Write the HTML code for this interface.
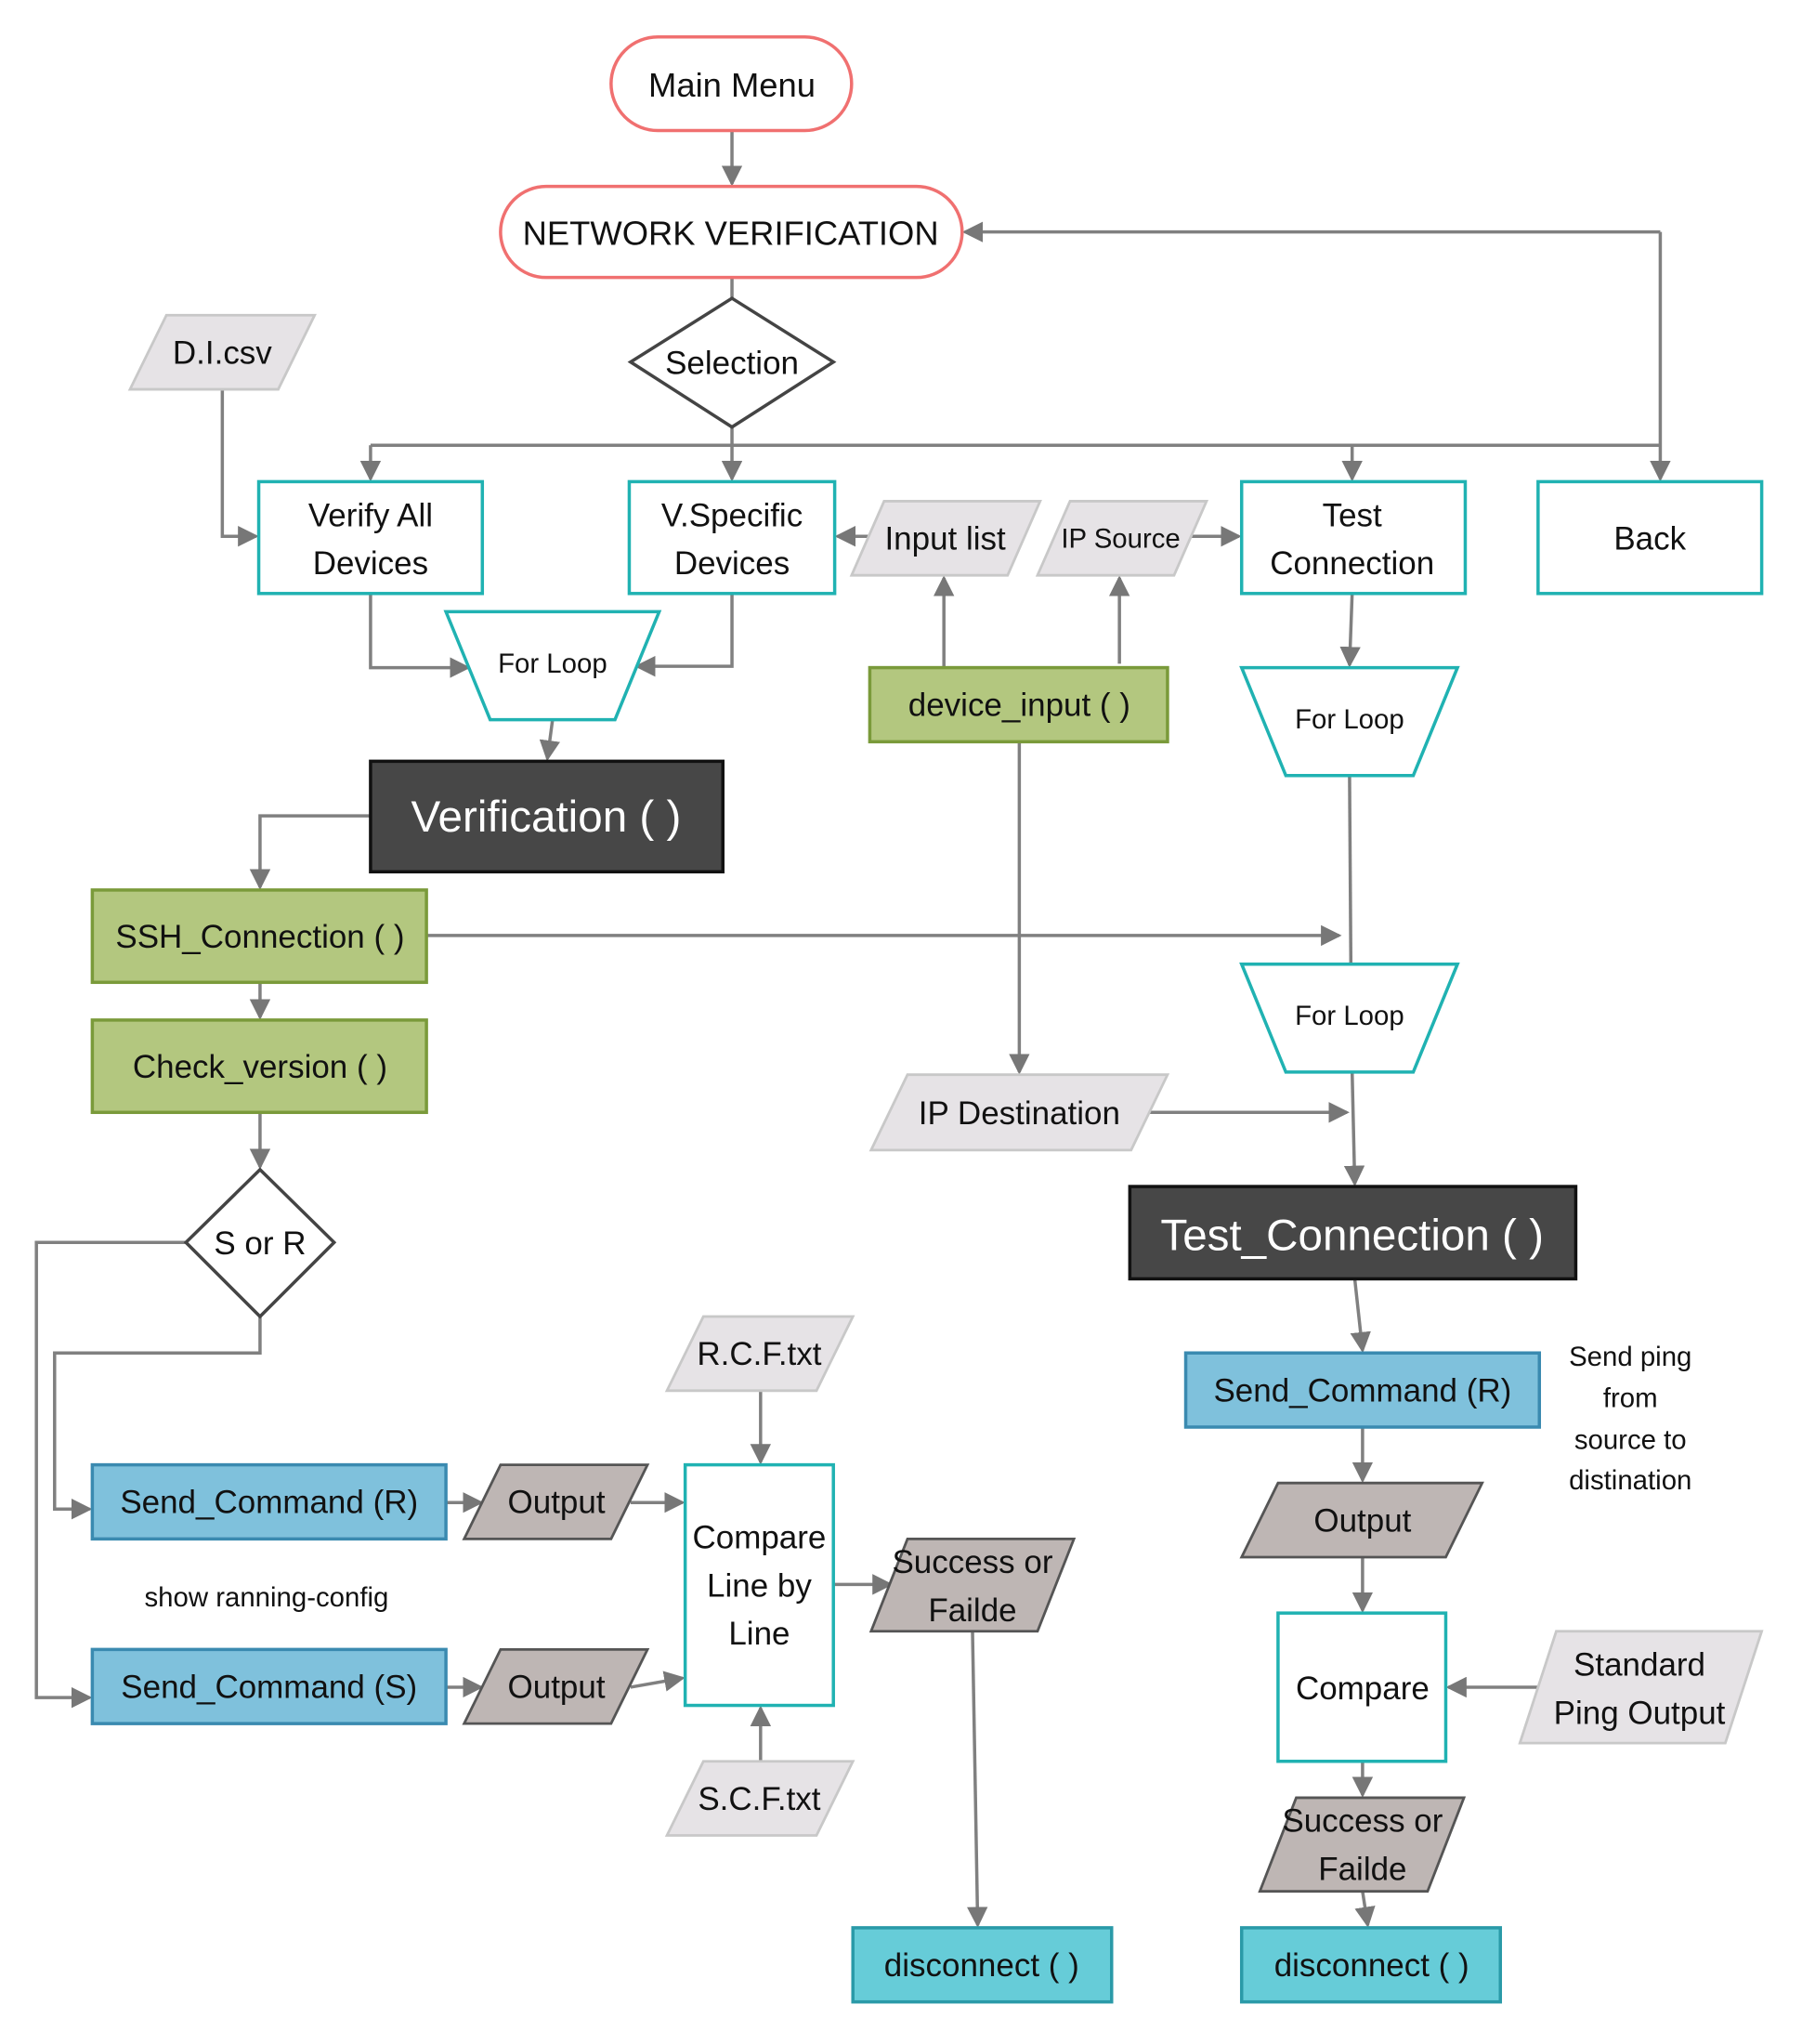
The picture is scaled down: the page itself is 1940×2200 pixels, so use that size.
<!DOCTYPE html>
<html><head><meta charset="utf-8"><style>
html,body{margin:0;padding:0;background:#fff;}
svg{display:block;}
text{font-family:"Liberation Sans",sans-serif;fill:#111;text-anchor:middle;dominant-baseline:central;}
.ln{stroke:#808080;stroke-width:2.5;fill:none;}
.teal{fill:#fff;stroke:#20b2b2;stroke-width:2.5;}
.grn{fill:#b3c77f;stroke:#7a9a3a;stroke-width:2.5;}
.blu{fill:#7fc1dc;stroke:#3a8ab0;stroke-width:2.5;}
.cyn{fill:#66ccd8;stroke:#2a9aa8;stroke-width:2.5;}
.drk{fill:#474747;stroke:#111;stroke-width:2.5;}
.lg{fill:#e6e3e6;stroke:#c8c8c8;stroke-width:2;}
.br{fill:#beb6b4;stroke:#555;stroke-width:2;}
.red{fill:#fff;stroke:#f07070;stroke-width:2.5;}
</style></head><body>
<svg width="1940" height="2200" viewBox="0 0 1386 1571" xmlns="http://www.w3.org/2000/svg">
<defs><marker id="a" markerWidth="10" markerHeight="10" refX="9" refY="5" orient="auto" markerUnits="userSpaceOnUse" viewBox="0 0 10 10"><path d="M0,0 L10,5 L0,10 z" fill="#777"/></marker>
<marker id="b" markerWidth="16" markerHeight="16" refX="14" refY="8" orient="auto" markerUnits="userSpaceOnUse" viewBox="0 0 16 16"><path d="M0,0 L16,8 L0,16 z" fill="#777"/></marker></defs>

<!-- connectors -->
<g class="ln">
<path d="M563,100 V141" marker-end="url(#b)"/>
<path d="M563,213 V229"/>
<path d="M563,328 V342 M285,342 H1277"/>
<path d="M285,342 V368" marker-end="url(#b)"/>
<path d="M563,342 V368" marker-end="url(#b)"/>
<path d="M1040,342 V368" marker-end="url(#b)"/>
<path d="M1277,178 V368" marker-end="url(#b)"/>
<path d="M1277,178 H742" marker-end="url(#b)"/>
<path d="M171,299 V412 H197" marker-end="url(#b)"/>
<path d="M672,412 H644" marker-end="url(#b)"/>
<path d="M912,412 H953" marker-end="url(#b)"/>
<path d="M726,513 V444" marker-end="url(#b)"/>
<path d="M861,510 V444" marker-end="url(#b)"/>
<path d="M784,570 V824" marker-end="url(#b)"/>
<path d="M285,456 V513 H360" marker-end="url(#b)"/>
<path d="M563,456 V512 H490" marker-end="url(#b)"/>
<path d="M425,553 L421,583" marker-end="url(#b)"/>
<path d="M285,627 H200 V682" marker-end="url(#b)"/>
<path d="M328,719 H1030" marker-end="url(#b)"/>
<path d="M200,755 V782" marker-end="url(#b)"/>
<path d="M200,855 V897" marker-end="url(#b)"/>
<path d="M143,955 H28 V1305 H69" marker-end="url(#b)"/>
<path d="M200,1012 V1040 H42 V1160 H69" marker-end="url(#b)"/>
<path d="M343,1155 H370" marker-end="url(#b)"/>
<path d="M343,1297 H370" marker-end="url(#b)"/>
<path d="M485,1155 H525" marker-end="url(#b)"/>
<path d="M485,1297 L525,1290" marker-end="url(#b)"/>
<path d="M585,1069 V1124" marker-end="url(#b)"/>
<path d="M585,1354 V1313" marker-end="url(#b)"/>
<path d="M641,1218 H685" marker-end="url(#b)"/>
<path d="M748,1254 L752,1480" marker-end="url(#b)"/>
<path d="M1040,456 L1038,511" marker-end="url(#b)"/>
<path d="M1038,596 L1039,741"/>
<path d="M1040,824 L1042,910" marker-end="url(#b)"/>
<path d="M884,855 H1036" marker-end="url(#b)"/>
<path d="M1042,983 L1048,1038" marker-end="url(#b)"/>
<path d="M1048,1097 V1138" marker-end="url(#b)"/>
<path d="M1048,1197 V1238" marker-end="url(#b)"/>
<path d="M1183,1297 H1114" marker-end="url(#b)"/>
<path d="M1048,1354 V1380" marker-end="url(#b)"/>
<path d="M1048,1454 L1052,1480" marker-end="url(#b)"/>
</g>

<!-- shapes -->
<rect class="red" x="470" y="28" width="185" height="72" rx="36"/>
<text x="563" y="65" font-size="26">Main Menu</text>
<rect class="red" x="385" y="143" width="355" height="70" rx="35"/>
<text x="562" y="179" font-size="26">NETWORK VERIFICATION</text>
<polygon points="563,229 641,278 563,328 485,278" fill="#fff" stroke="#444" stroke-width="2.5"/>
<text x="563" y="279" font-size="25">Selection</text>

<polygon class="lg" points="128,242 242,242 214,299 100,299"/>
<text x="171" y="271" font-size="25">D.I.csv</text>

<rect class="teal" x="199" y="370" width="172" height="86"/>
<text x="285" y="396" font-size="25">Verify All</text><text x="285" y="433" font-size="25">Devices</text>
<rect class="teal" x="484" y="370" width="158" height="86"/>
<text x="563" y="396" font-size="25">V.Specific</text><text x="563" y="433" font-size="25">Devices</text>
<rect class="teal" x="955" y="370" width="172" height="86"/>
<text x="1040" y="396" font-size="25">Test</text><text x="1040" y="433" font-size="25">Connection</text>
<rect class="teal" x="1183" y="370" width="172" height="86"/>
<text x="1269" y="414" font-size="25">Back</text>

<polygon class="lg" points="680,385 800,385 775,442 655,442"/>
<text x="727" y="414" font-size="25">Input list</text>
<polygon class="lg" points="823,385 928,385 903,442 798,442"/>
<text x="862" y="414" font-size="21">IP Source</text>

<polygon class="teal" points="343,470 507,470 473,553 377,553"/>
<text x="425" y="510" font-size="21">For Loop</text>

<rect class="grn" x="669" y="513" width="229" height="57"/>
<text x="784" y="542" font-size="25">device_input ( )</text>

<rect class="drk" x="285" y="585" width="271" height="85"/>
<text x="420" y="628" font-size="34" style="fill:#fff">Verification ( )</text>

<rect class="grn" x="71" y="684" width="257" height="71"/>
<text x="200" y="720" font-size="25">SSH_Connection ( )</text>
<rect class="grn" x="71" y="784" width="257" height="71"/>
<text x="200" y="820" font-size="25">Check_version ( )</text>

<polygon points="200,899 257,955 200,1012 143,955" fill="#fff" stroke="#444" stroke-width="2.5"/>
<text x="200" y="956" font-size="25">S or R</text>

<polygon class="teal" points="955,513 1121,513 1087,596 989,596"/>
<text x="1038" y="553" font-size="21">For Loop</text>
<polygon class="teal" points="955,741 1121,741 1087,824 989,824"/>
<text x="1038" y="781" font-size="21">For Loop</text>

<polygon class="lg" points="698,826 898,826 870,884 670,884"/>
<text x="784" y="856" font-size="25">IP Destination</text>

<rect class="drk" x="869" y="912" width="343" height="71"/>
<text x="1040" y="950" font-size="34" style="fill:#fff">Test_Connection  ( )</text>

<rect class="blu" x="71" y="1126" width="272" height="57"/>
<text x="207" y="1155" font-size="25">Send_Command (R)</text>
<rect class="blu" x="71" y="1268" width="272" height="57"/>
<text x="207" y="1297" font-size="25">Send_Command (S)</text>
<text x="205" y="1228" font-size="21">show  ranning-config</text>

<polygon class="br" points="385,1126 498,1126 470,1183 357,1183"/>
<text x="428" y="1155" font-size="25">Output</text>
<polygon class="br" points="385,1268 498,1268 470,1325 357,1325"/>
<text x="428" y="1297" font-size="25">Output</text>

<polygon class="lg" points="541,1012 656,1012 628,1069 513,1069"/>
<text x="584" y="1041" font-size="25">R.C.F.txt</text>
<polygon class="lg" points="541,1354 656,1354 628,1411 513,1411"/>
<text x="584" y="1383" font-size="25">S.C.F.txt</text>

<rect class="teal" x="527" y="1126" width="114" height="185"/>
<text x="584" y="1182" font-size="25">Compare</text><text x="584" y="1219" font-size="25">Line by</text><text x="584" y="1256" font-size="25">Line</text>

<polygon class="br" points="698,1183 826,1183 798,1254 670,1254"/>
<text x="748" y="1201" font-size="25">Success or</text><text x="748" y="1238" font-size="25">Failde</text>

<rect class="cyn" x="656" y="1482" width="199" height="57"/>
<text x="755" y="1511" font-size="25">disconnect ( )</text>

<rect class="blu" x="912" y="1040" width="272" height="57"/>
<text x="1048" y="1069" font-size="25">Send_Command (R)</text>
<text x="1254" y="1043" font-size="21">Send ping</text>
<text x="1254" y="1075" font-size="21">from</text>
<text x="1254" y="1107" font-size="21">source to</text>
<text x="1254" y="1138" font-size="21">distination</text>

<polygon class="br" points="983,1140 1140,1140 1112,1197 955,1197"/>
<text x="1048" y="1169" font-size="25">Output</text>

<rect class="teal" x="983" y="1240" width="129" height="114"/>
<text x="1048" y="1298" font-size="25">Compare</text>

<polygon class="lg" points="1197,1254 1355,1254 1327,1340 1169,1340"/>
<text x="1261" y="1280" font-size="25">Standard</text><text x="1261" y="1317" font-size="25">Ping Output</text>

<polygon class="br" points="997,1382 1126,1382 1098,1454 969,1454"/>
<text x="1048" y="1400" font-size="25">Success or</text><text x="1048" y="1437" font-size="25">Failde</text>

<rect class="cyn" x="955" y="1482" width="199" height="57"/>
<text x="1055" y="1511" font-size="25">disconnect ( )</text>
</svg>
</body></html>
